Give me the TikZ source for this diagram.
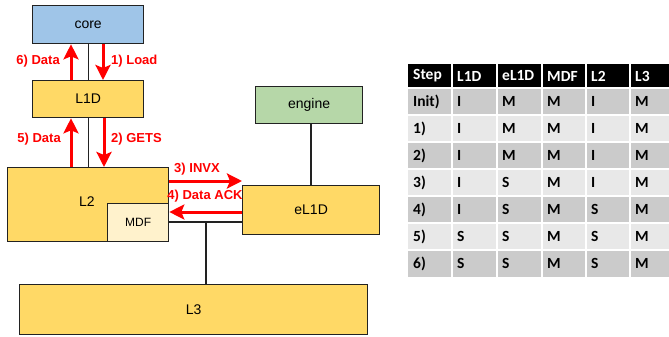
\documentclass[tikz,border=0pt]{standalone}
\usepackage{fontspec}
\setmainfont{Liberation Sans}
\newfontfamily\calib{Carlito}
\usetikzlibrary{arrows.meta}
\definecolor{coreblue}{HTML}{9FC5E8}
\definecolor{cacheyel}{HTML}{FFD966}
\definecolor{enggreen}{HTML}{B6D7A8}
\definecolor{mdfyel}{HTML}{FFF2CC}
\definecolor{rowdark}{HTML}{CBCBCB}
\definecolor{rowlight}{HTML}{E8E8E8}
\definecolor{edge}{HTML}{222222}
\tikzset{
  box/.style={draw=edge, line width=1.3pt, fill=#1, inner sep=0pt, anchor=north west,
    font=\fontsize{14}{16}\selectfont},
  wire/.style={draw=edge, line width=1.2pt},
  msg/.style={draw=red, line width=3pt, -{Stealth[length=15pt,width=15pt,inset=3pt]}},
  lbl/.style={text=red, font=\bfseries\fontsize{13}{15}\selectfont, inner sep=0pt},
  cell/.style={anchor=west, inner sep=0pt, font=\calib\bfseries\fontsize{15.5}{17}\selectfont},
}
\begin{document}
\begin{tikzpicture}[x=1pt,y=-1pt]
\useasboundingbox (0,0) rectangle (669,337);
% boxes
\node[box=coreblue, minimum width=111pt, minimum height=38pt] (core) at (32,5) {core};
\node[box=cacheyel, minimum width=111pt, minimum height=37pt] (l1d) at (32,80) {L1D};
\node[box=enggreen, minimum width=107pt, minimum height=37pt] (engine) at (255,86) {engine};
\node[box=cacheyel, minimum width=161pt, minimum height=74pt] (l2) at (7,167) {};
\node[font=\fontsize{14}{16}\selectfont] (l2t) at (87,202) {L2};
\node[box=mdfyel, minimum width=61pt, minimum height=38pt, font=\fontsize{12}{14}\selectfont] (mdf) at (107,203) {MDF};
\node[box=cacheyel, minimum width=137pt, minimum height=49pt] (el1d) at (242,185) {eL1D};
\node[box=cacheyel, minimum width=348pt, minimum height=50pt] (l3) at (19,284) {L3};
% wires
\draw[wire] (core.south) -- (l1d.north);
\draw[wire] (l1d.south) -- (l2.north -| l1d.south);
\draw[wire] (engine.south -| 311,0) -- (el1d.north -| 311,0);
\coordinate (j) at (206,222);
\draw[wire] (mdf.east |- j) -- (el1d.west |- j);
\draw[wire] (j) -- (l3.north -| j);
% messages
\draw[msg] (l1d.north -| 71,0) -- (core.south -| 71,0);
\draw[msg] (core.south -| 103,0) -- (l1d.north -| 103,0);
\draw[msg] (l2.north -| 71,0) -- (l1d.south -| 71,0);
\draw[msg] (l1d.south -| 104,0) -- (l2.north -| 104,0);
\draw[msg] (l2.east |- 0,181) -- (el1d.west |- 0,181);
\draw[msg] (el1d.west |- 0,212) -- (mdf.east |- 0,212);
\node[lbl, anchor=east] (t6) at (60,61) {6) Data};
\node[lbl, anchor=west] (t1) at (111,61) {1) Load};
\node[lbl, anchor=east] (t5) at (61,139) {5) Data};
\node[lbl, anchor=west] (t2) at (111,139) {2) GETS};
\node[lbl] (t3) at (197,169) {3) INVX};
\node[lbl] (t4) at (205,196) {4) Data ACK};
% table
\def\colx{{408,452,497,542,586,630,669}}
\fill[black] (408,64) rectangle (669,88);
\foreach \r in {0,...,6}{
  \pgfmathsetmacro{\ytop}{88+27*\r}
  \pgfmathsetmacro{\ybot}{\ytop+27}
  \ifodd\r \def\rc{rowlight}\else\def\rc{rowdark}\fi
  \fill[\rc] (408,\ytop) rectangle (669,\ybot);
}
\foreach \r in {1,...,7}{\draw[white, line width=1.5pt] (408,88+27*\r-27) -- (669,88+27*\r-27);}
\foreach \c in {452,497,542,586,630}{\draw[white, line width=1.5pt] (\c,64) -- (\c,277);}
\foreach \txt [count=\i from 0] in {Step,L1D,eL1D,MDF,L2,L3}{
  \pgfmathsetmacro{\xx}{\colx[\i]+5}
  \node[cell, text=white] (h\i) at (\xx,76) {\txt};
}
\foreach \row [count=\r from 0] in {
  {Init),I,M,M,I,M},
  {1),I,M,M,I,M},
  {2),I,M,M,I,M},
  {3),I,S,M,I,M},
  {4),I,S,M,S,M},
  {5),S,S,M,S,M},
  {6),S,S,M,S,M}}{
  \foreach \txt [count=\i from 0] in \row {
    \pgfmathsetmacro{\xx}{\colx[\i]+5}
    \pgfmathsetmacro{\yy}{101.5+27*\r}
    \node[cell] (c\r-\i) at (\xx,\yy) {\txt};
  }
}
\end{tikzpicture}
\end{document}
